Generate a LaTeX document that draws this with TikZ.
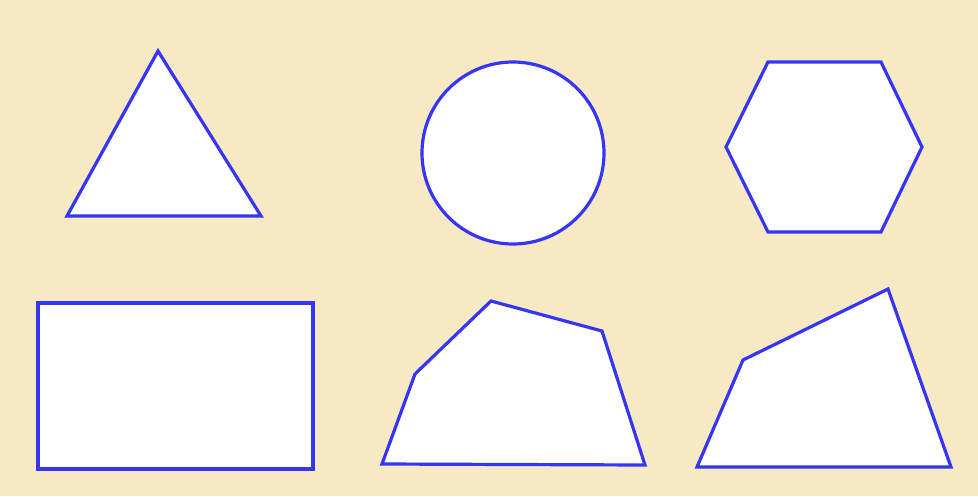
\documentclass[tikz,border=0pt]{standalone}
\definecolor{bg}{HTML}{F7E9C3}
\definecolor{edge}{HTML}{3535F5}
\begin{document}
\begin{tikzpicture}[x=1pt,y=-1pt,outlined/.style={draw=edge,fill=white,line width=3.2pt,line join=miter}]
\fill[bg] (0,0) rectangle (978,496);
\useasboundingbox (0,0) rectangle (978,496);
\draw[outlined] (158,51) -- (67,216) -- (261,216) -- cycle;
\draw[outlined] (513,153) circle[radius=91];
\draw[outlined] (726,147) -- (768,62) -- (881,62) -- (922,147) -- (881,232) -- (768,232) -- cycle;
\draw[outlined] (38,303) rectangle (313,469);
\draw[outlined] (382,464) -- (415,374) -- (491,301) -- (602,331) -- (645,465) -- cycle;
\draw[outlined] (697,467) -- (743,360) -- (888,289) -- (951,467) -- cycle;
\end{tikzpicture}
\end{document}
